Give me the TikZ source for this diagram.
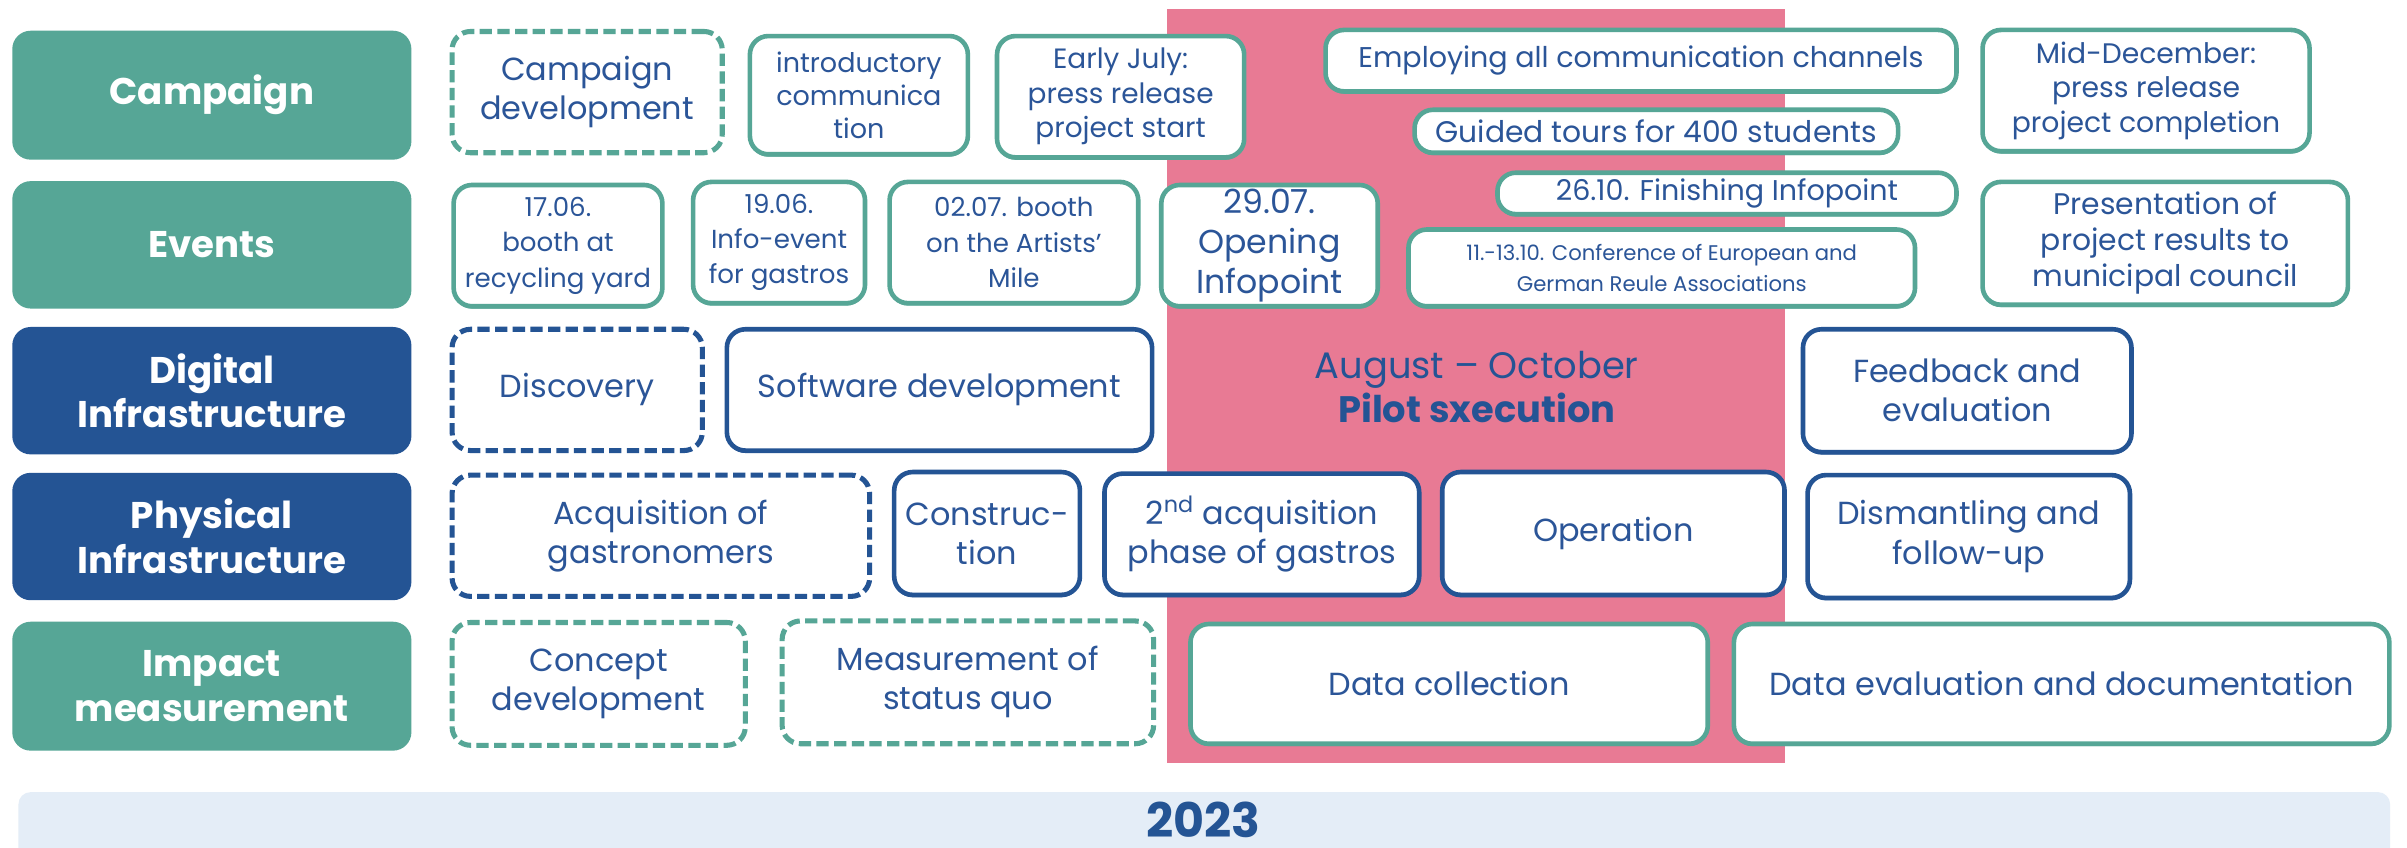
\documentclass[tikz,border=0pt]{standalone}
\usepackage{fontspec}
\setmainfont{Poppins}
\definecolor{tealc}{HTML}{56A696}
\definecolor{bluec}{HTML}{245494}
\definecolor{txtc}{HTML}{2B5598}
\definecolor{pinkc}{HTML}{E87A94}
\definecolor{yearc}{HTML}{E4EDF7}
\tikzset{
  lane/.style={rounded corners=12pt, fill=#1, text=white, align=center, inner sep=0pt,
    font=\bfseries\fontsize{24.2}{29}\selectfont},
  card/.style={rounded corners=12pt, fill=white, text=txtc, align=center, inner sep=0pt,
    line width=3pt, font=\fontsize{20.8}{25.5}\selectfont},
  tsolid/.style={card, draw=tealc, preaction={fill=tealc, transform canvas={yshift=-1.6pt}}},
  bsolid/.style={card, draw=bluec, preaction={fill=bluec, transform canvas={yshift=-1.6pt}}},
  tdashed/.style={card, draw=tealc, line width=3.3pt, dash pattern=on 8pt off 3.5pt},
  bdashed/.style={card, draw=bluec, line width=3.3pt, dash pattern=on 8pt off 3.5pt},
  small/.style={font=\fontsize{17}{23}\selectfont},
  mid/.style={font=\fontsize{18.2}{22.5}\selectfont},
}
% box given by its outer corners (x1,y1) and (x2,y2)
\newcommand\bx[7]{\node[#2, minimum width={#5pt-#3pt-3pt}, minimum height={#6pt-#4pt-3pt}]
  (#1) at ({(#3+#5)/2},{(#4+#6)/2}) {#7};}
\newcommand\lanebox[7]{\node[lane=#2, minimum width={#5pt-#3pt}, minimum height={#6pt-#4pt}]
  (#1) at ({(#3+#5)/2},{(#4+#6)/2}) {#7};}
\begin{document}
\begin{tikzpicture}[x=1pt, y=-1pt]
\useasboundingbox (0,0) rectangle (1568,552);
\fill[white] (0,0) rectangle (1568,552);

% pilot phase band
\fill[pinkc] (760,6) rectangle (1163,497);

% year bar
\begin{scope}
\clip (0,0) rectangle (1568,552);
\node[fill=yearc, rounded corners=8pt, minimum width=1545pt, minimum height=50pt, inner sep=0pt]
  (yearbar) at (784.5,541) {};
\end{scope}
\node[text=bluec, font=\bfseries\fontsize{31}{34}\selectfont, anchor=base, inner sep=0pt]
  (year) at (784,545.5) {2023};

% lanes
\lanebox{lc}{tealc}{8}{20}{268}{104}{Campaign}
\lanebox{le}{tealc}{8}{118}{268}{201}{Events}
\lanebox{ld}{bluec}{8}{213}{268}{296}{Digital\\Infrastructure}
\lanebox{lp}{bluec}{8}{308}{268}{391}{Physical\\Infrastructure}
\lanebox{li}{tealc}{8}{405}{268}{489}{Impact\\measurement}

% campaign
\bx{c1}{tdashed}{293}{19}{472}{101}{Campaign\\development}
\bx{c2}{tsolid,font=\fontsize{17.6}{21.5}\selectfont}{487}{22}{632}{102}{introductory\\communica\\tion}
\bx{c3}{tsolid,mid}{648}{22}{812}{104}{Early July:\\press release\\project start}
\bx{c4}{tsolid,font=\fontsize{18.6}{22}\selectfont}{862}{18}{1276}{61}{Employing all communication channels}
\bx{c5}{tsolid,font=\fontsize{19.4}{22}\selectfont}{920}{70}{1238}{101}{Guided tours for 400 students}
\bx{c6}{tsolid,font=\fontsize{18.4}{22.5}\selectfont}{1290}{18}{1506}{100}{Mid-December:\\press release\\project completion}

% events
\bx{e1}{tsolid,small}{294}{119}{433}{201}{17.06.\\booth at\\recycling yard}
\bx{e2}{tsolid,small}{450}{117}{565}{199}{19.06.\\Info-event\\for gastros}
\bx{e3}{tsolid,small}{578}{117}{743}{199}{02.07. booth\\on the Artists'\\Mile}
\bx{e4}{tsolid,font=\fontsize{21.6}{26}\selectfont}{755}{119}{899}{201}{29.07.\\Opening\\Infopoint}
\bx{e5}{tsolid,font=\fontsize{18.6}{22}\selectfont}{974}{111}{1276}{141}{26.10. Finishing Infopoint}
\bx{e6}{tsolid,font=\fontsize{13.8}{20}\selectfont}{916}{148}{1249}{201}{11.-13.10. Conference of European and\\German Reule Associations}
\bx{e7}{tsolid,font=\fontsize{19.4}{23.5}\selectfont}{1290}{117}{1531}{200}{Presentation of\\project results to\\municipal council}

% digital infrastructure
\bx{d1}{bdashed}{293}{213}{459}{295}{Discovery}
\bx{d2}{bsolid}{472}{213}{752}{295}{Software development}
\node[text=bluec, align=center, font=\fontsize{24}{29}\selectfont] (pilot) at (962,252)
  {August – October\\\textbf{Pilot sxecution}};
\bx{d3}{bsolid}{1173}{213}{1390}{296}{Feedback and\\evaluation}

% physical infrastructure
\bx{p1}{bdashed}{293}{308}{568}{390}{Acquisition of\\gastronomers}
\bx{p2}{bsolid}{581}{306}{705}{389}{Construc-\\tion}
\bx{p3}{bsolid}{718}{307}{926}{389}{2\textsuperscript{nd} acquisition\\phase of gastros}
\bx{p4}{bsolid}{938}{306}{1164}{389}{Operation}
\bx{p5}{bsolid}{1176}{308}{1389}{391}{Dismantling and\\follow-up}

% impact measurement
\bx{i1}{tdashed}{293}{404}{487}{487}{Concept\\development}
\bx{i2}{tdashed}{508}{403}{753}{486}{Measurement of\\status quo}
\bx{i3}{tsolid}{774}{405}{1114}{486}{Data collection}
\bx{i4}{tsolid}{1128}{405}{1558}{486}{Data evaluation and documentation}
\end{tikzpicture}
\end{document}
